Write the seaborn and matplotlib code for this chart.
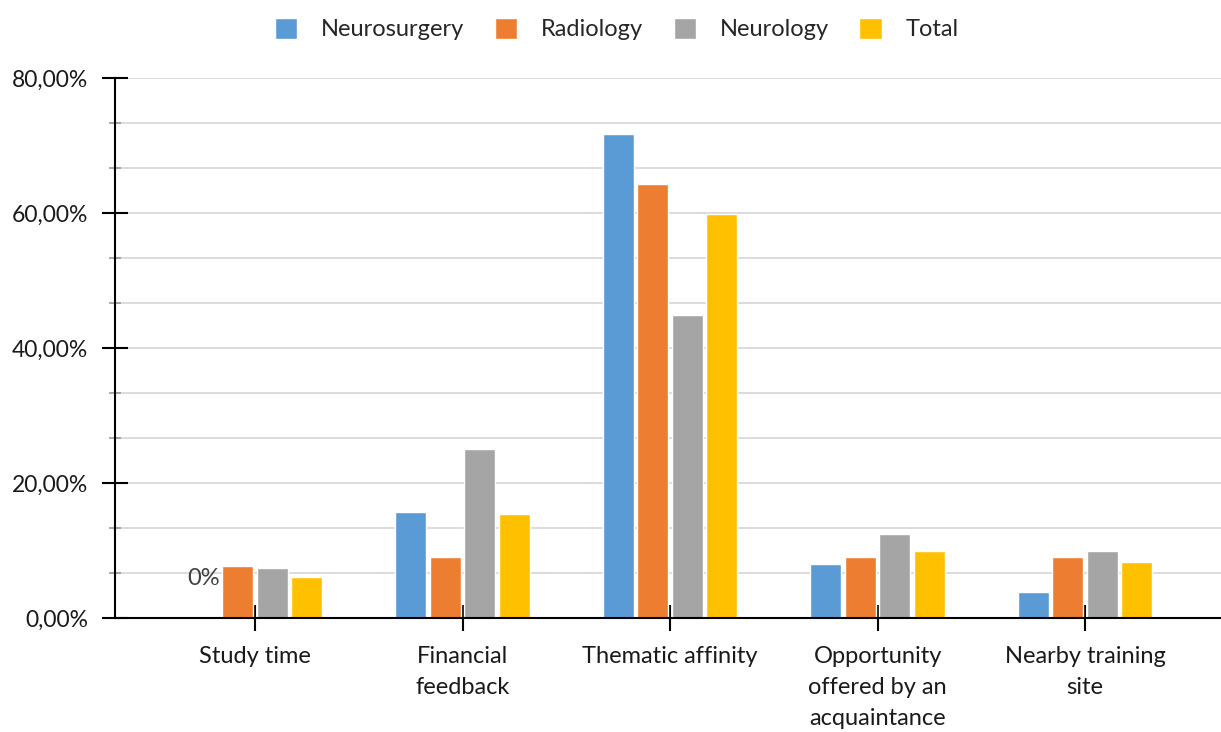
import pandas as pd
import matplotlib.pyplot as plt
import seaborn as sns
from matplotlib.ticker import MultipleLocator, FuncFormatter

# Données
factors = [
    "Study time",
    "Financial\nfeedback",
    "Thematic affinity",
    "Opportunity\noffered by an\nacquaintance",
    "Nearby training\nsite",
]
groups = ["Neurosurgery", "Radiology", "Neurology", "Total"]
neurosurgery = [0.0, 15.7, 71.7, 8.0, 3.9]
radiology = [7.7, 9.0, 64.3, 9.0, 9.0]
neurology = [7.4, 25.0, 44.9, 12.4, 9.9]
total = [6.1, 15.4, 59.9, 9.9, 8.3]
colors = ["#5B9BD5", "#ED7D31", "#A5A5A5", "#FFC000"]

series = [neurosurgery, radiology, neurology, total]
df = pd.DataFrame(
    [(f, g, v) for g, vals in zip(groups, series) for f, v in zip(factors, vals)],
    columns=["factor", "group", "value"],
)

sns.set_style("white")
plt.rcParams["font.family"] = ["Lato", "DejaVu Sans"]

fig = plt.figure(figsize=(12.21, 7.32), dpi=100)
ax = fig.add_axes([0.0942, 0.1557, 0.9058, 0.7377])

sns.barplot(
    data=df, x="factor", y="value", hue="group",
    order=factors, hue_order=groups, palette=colors,
    width=0.664, gap=0.1, saturation=1, ax=ax,
)

ax.set_ylim(0, 80)
ax.set_xlim(-0.675, 4.655)
ax.yaxis.set_major_locator(MultipleLocator(20))
ax.yaxis.set_minor_locator(MultipleLocator(20 / 3))
ax.yaxis.set_major_formatter(FuncFormatter(lambda v, p: f"{v:.2f}%".replace(".", ",")))
ax.grid(axis="y", which="both", color="#d9d9d9", linewidth=1.3)
ax.set_axisbelow(True)

for side in ["top", "right"]:
    ax.spines[side].set_visible(False)
for side in ["left", "bottom"]:
    ax.spines[side].set_color("black")
    ax.spines[side].set_linewidth(1.5)

ax.tick_params(axis="y", which="major", direction="inout", length=19, width=1.5,
               color="black", labelsize=16.5, pad=10, labelcolor="#1a1a1a", left=True)
ax.tick_params(axis="y", which="minor", direction="inout", length=9, width=1.2,
               color="#999999", left=True)
ax.tick_params(axis="x", direction="inout", length=19, width=1.5, color="black",
               labelsize=17, pad=11, labelcolor="#1a1a1a", bottom=True)
for lab in ax.get_xticklabels():
    lab.set_linespacing(1.57)

ax.set_xlabel("")
ax.set_ylabel("")

# étiquette "0%" sur la barre nulle
ax.text(-0.249, 5.9, "0%", ha="center", va="center", fontsize=17, color="#404040")

sns.move_legend(
    ax, "upper center", bbox_to_anchor=(0.505, 1.005), bbox_transform=fig.transFigure,
    ncol=4, frameon=False, title=None, fontsize=17,
    handlelength=0.95, handleheight=1.0, columnspacing=1.3, handletextpad=1.0,
)

fig.savefig("out.png", dpi=100)
